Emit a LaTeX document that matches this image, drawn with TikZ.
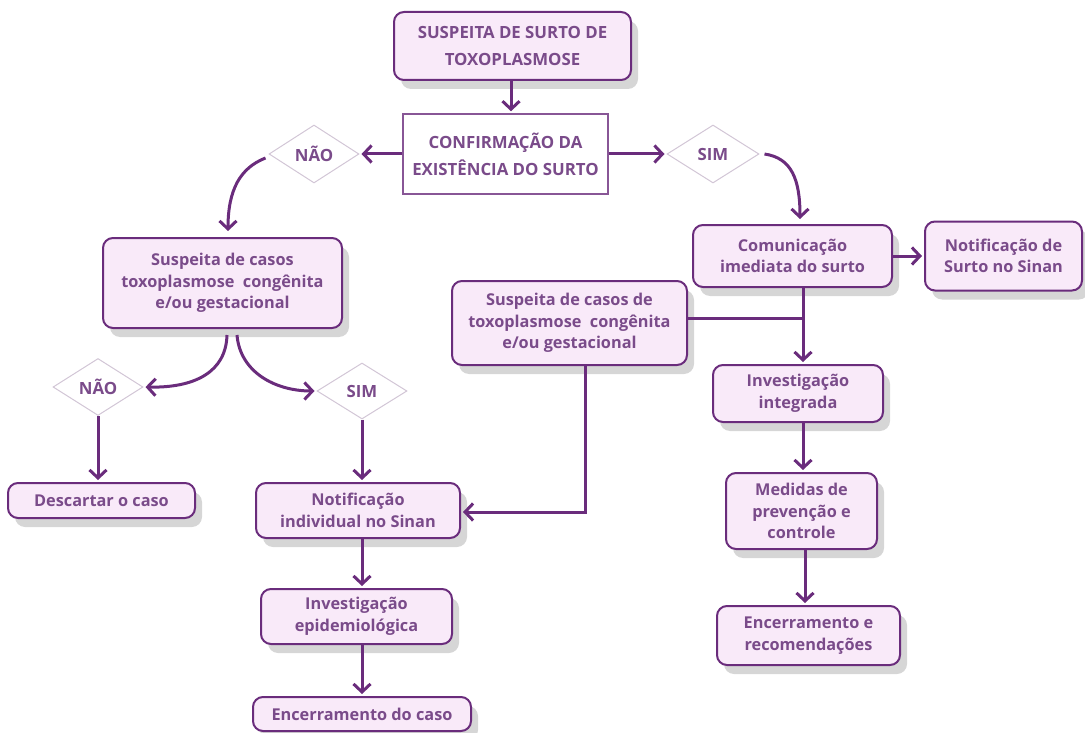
\documentclass[tikz,border=0pt]{standalone}
\usepackage{fontspec}
\setmainfont{Open Sans}
\usetikzlibrary{shapes.geometric,shadows,arrows.meta}
\definecolor{pline}{HTML}{6A2C7C}
\definecolor{pfill}{HTML}{F9EAF9}
\definecolor{ptext}{HTML}{7A4B8A}
\definecolor{dline}{HTML}{D2C6D6}
\begin{document}
\begin{tikzpicture}[x=1pt,y=-1pt,
  txt/.style={text=ptext,font=\bfseries\fontsize{16.3}{21.5}\selectfont,align=center,inner sep=0pt},
  caps/.style={font=\bfseries\fontsize{16.8}{27}\selectfont},
  box/.style={txt,draw=pline,line width=2pt,fill=pfill,rounded corners=10pt,
    drop shadow={shadow xshift=7pt,shadow yshift=-9pt,fill=black,opacity=0.16}},
  plainbox/.style={txt,draw=pline!80,line width=1.5pt,fill=white},
  dec/.style={txt,shape=diamond,draw=dline,line width=1pt,fill=white},
  arr/.style={draw=pline,line width=3pt,-{Straight Barb[length=8pt,width=17pt]},shorten >=2pt},
  lin/.style={draw=pline,line width=3pt}]
\useasboundingbox (0,0) rectangle (1085,733);

% top branch
\node[box,caps,minimum width=237pt,minimum height=68pt] (top) at (512.5,46) {SUSPEITA DE SURTO DE\\TOXOPLASMOSE};
\node[plainbox,caps,minimum width=205pt,minimum height=80pt] (conf) at (505.5,154) {CONFIRMAÇÃO DA\\EXISTÊNCIA DO SURTO};
\node[dec,caps,minimum width=90pt,minimum height=58pt] (nao1) at (314,154) {NÃO};
\node[dec,caps,minimum width=92pt,minimum height=58pt] (sim1) at (713,154) {SIM};

% left side
\node[box,minimum width=239pt,minimum height=90pt] (left) at (222.5,283) {Suspeita de casos\\toxoplasmose~~congênita\\e/ou gestacional};
\node[dec,caps,minimum width=90pt,minimum height=57pt] (nao2) at (98,387) {NÃO};
\node[dec,caps,minimum width=90pt,minimum height=56pt] (sim2) at (362,391) {SIM};
\node[box,minimum width=187pt,minimum height=35pt] (desc) at (101.5,500.5) {Descartar o caso};
\node[box,minimum width=204pt,minimum height=55pt] (notif) at (358,510.5) {Notificação\\individual no Sinan};
\node[box,minimum width=191pt,minimum height=55pt] (invepi) at (356.5,616.5) {Investigação\\epidemiológica};
\node[box,minimum width=218pt,minimum height=34pt] (enc) at (362,714) {Encerramento do caso};

% right side
\node[box,minimum width=199pt,minimum height=62pt] (com) at (792.5,256) {Comunicação\\imediata do surto};
\node[box,minimum width=157pt,minimum height=69pt] (nsurto) at (1003.5,256) {Notificação de\\Surto no Sinan};
\node[box,minimum width=235pt,minimum height=84pt] (susp2) at (569.5,323) {Suspeita de casos de\\toxoplasmose~~congênita\\e/ou gestacional};
\node[box,minimum width=170pt,minimum height=57pt] (invint) at (798,393.5) {Investigação\\integrada};
\node[box,minimum width=151pt,minimum height=76pt] (med) at (801.5,511) {Medidas de\\prevenção e\\controle};
\node[box,minimum width=183pt,minimum height=59pt] (encrec) at (808.5,635.5) {Encerramento e\\recomendações};

\coordinate (c1) at (511,0);
\coordinate (c2) at (803,0);
\coordinate (c3) at (805,0);
\coordinate (j) at (803,318);
\coordinate (k) at (585,512);

% connectors
\draw[arr] (top.south -| c1) -- (conf.north -| c1);
\draw[arr] (conf.west) -- (nao1.east);
\draw[arr] (conf.east) -- (sim1.west);
\draw[arr] ([xshift=-3pt,yshift=-4pt]nao1.west) .. controls (240,168) and (228,190) .. ([xshift=5.5pt,yshift=4pt]left.north);
\draw[arr] ([xshift=5pt,yshift=0pt]sim1.east) .. controls (792,158) and (800,180) .. ([xshift=7.5pt,yshift=3pt]com.north);
\draw[arr] ([xshift=4.5pt,yshift=-6pt]left.south) .. controls (226,372) and (195,388) .. (nao2.east);
\draw[arr] ([xshift=14.5pt,yshift=-6pt]left.south) .. controls (240,372) and (275,391) .. (sim2.west);
\draw[arr] (nao2.south) -- (nao2.south |- desc.north);
\draw[arr] (sim2.south) -- (sim2.south |- notif.north);
\draw[arr] (notif.south -| sim2.south) -- (invepi.north -| sim2.south);
\draw[arr] (invepi.south -| sim2.south) -- (enc.north -| sim2.south);
\draw[arr] (com.east) -- (nsurto.west);
\draw[lin] (susp2.east |- j) -- (j);
\draw[arr] (com.south -| c2) -- (invint.north -| c2);
\draw[arr] (invint.south -| c2) -- (med.north -| c2);
\draw[arr] (med.south -| c3) -- (encrec.north -| c3);
\draw[arr] (susp2.south -| k) -- (k) -- (notif.east |- k);
\end{tikzpicture}
\end{document}
